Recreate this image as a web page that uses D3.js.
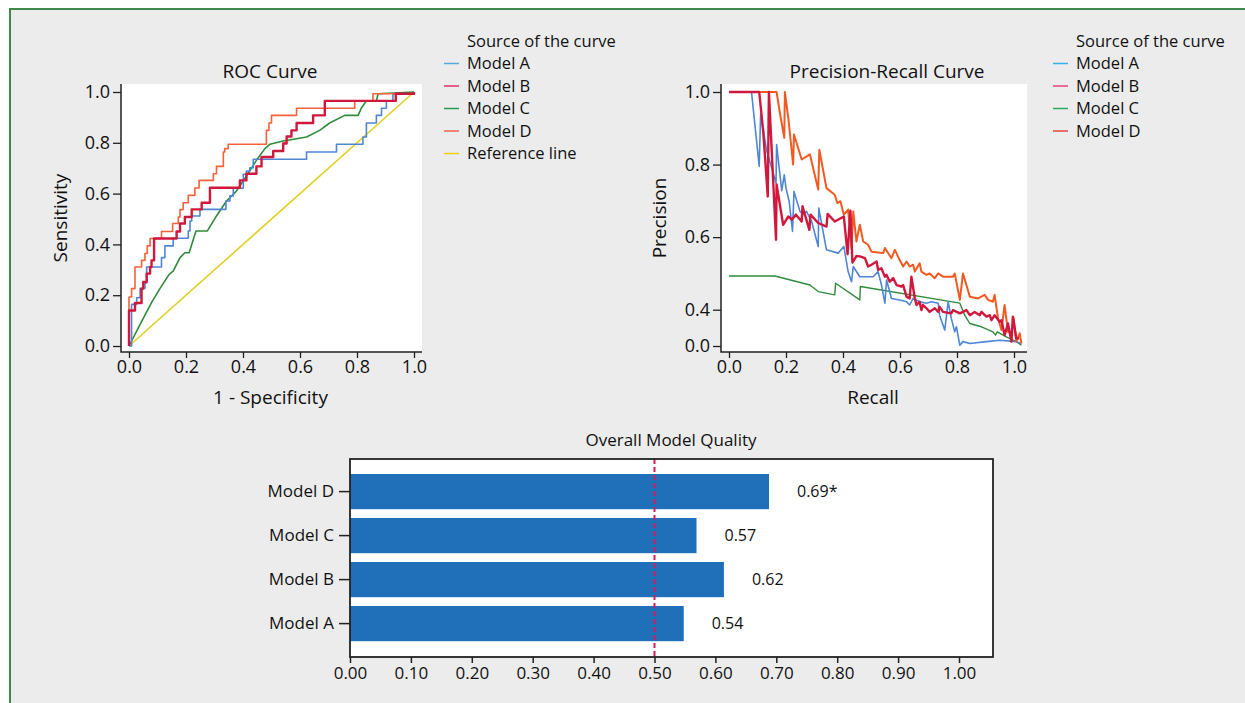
<!DOCTYPE html>
<html>
<head>
<meta charset="utf-8">
<script src="https://cdn.jsdelivr.net/npm/d3@7"></script>
<style>
body { margin: 0; background: #fff; font-family: "Open Sans", sans-serif; }
</style>
</head>
<body>
<script>
// ROC points [1 - specificity, sensitivity]
var rocA = [[0,0],[0.009,0.112],[0.009,0.164],[0.027,0.190],[0.039,0.227],[0.056,0.249],[0.062,0.311],[0.114,0.348],[0.126,0.394],[0.155,0.424],[0.208,0.453],[0.214,0.492],[0.220,0.512],[0.249,0.538],[0.340,0.571],[0.354,0.591],[0.366,0.621],[0.401,0.676],[0.412,0.689],[0.424,0.702],[0.436,0.735],[0.623,0.764],[0.728,0.794],[0.821,0.823],[0.833,0.878],[0.868,0.908],[0.886,0.936],[0.903,0.965],[0.926,0.991],[1,1]];
var rocB = [[0,0],[0,0.140],[0.021,0.169],[0.044,0.226],[0.050,0.252],[0.062,0.285],[0.074,0.311],[0.079,0.337],[0.088,0.423],[0.167,0.451],[0.179,0.482],[0.196,0.508],[0.220,0.538],[0.255,0.564],[0.284,0.623],[0.389,0.652],[0.412,0.678],[0.447,0.707],[0.465,0.744],[0.506,0.768],[0.541,0.797],[0.553,0.825],[0.570,0.849],[0.588,0.878],[0.646,0.908],[0.687,0.965],[0.936,0.993],[1,1]];
var rocC = [[0,0],[0.039,0.085],[0.079,0.171],[0.109,0.227],[0.141,0.282],[0.155,0.295],[0.179,0.348],[0.196,0.367],[0.211,0.367],[0.235,0.453],[0.275,0.453],[0.307,0.512],[0.342,0.571],[0.377,0.610],[0.412,0.669],[0.447,0.731],[0.477,0.777],[0.494,0.794],[0.541,0.807],[0.623,0.823],[0.669,0.849],[0.704,0.878],[0.757,0.908],[0.804,0.908],[0.815,0.936],[0.833,0.965],[0.868,0.965],[0.874,0.993],[1,1]];
var rocD = [[0,0],[0,0.193],[0.009,0.226],[0.021,0.311],[0.044,0.337],[0.056,0.364],[0.064,0.394],[0.074,0.423],[0.114,0.451],[0.153,0.482],[0.173,0.508],[0.179,0.537],[0.190,0.564],[0.208,0.593],[0.231,0.622],[0.246,0.652],[0.296,0.678],[0.307,0.707],[0.331,0.764],[0.336,0.777],[0.348,0.794],[0.482,0.849],[0.491,0.878],[0.500,0.908],[0.588,0.936],[0.792,0.965],[0.856,0.993],[1,1]];
var rocRef = [[0,0],[1,1]];

// Precision-recall points [recall, precision]
var prA = [[0,1],[0.079,1],[0.106,0.795],[0.111,0.938],[0.132,0.839],[0.165,0.749],[0.167,0.855],[0.185,0.728],[0.194,0.772],[0.200,0.735],[0.211,0.699],[0.223,0.616],[0.228,0.726],[0.249,0.671],[0.261,0.662],[0.272,0.671],[0.290,0.643],[0.313,0.574],[0.315,0.680],[0.342,0.565],[0.383,0.556],[0.403,0.574],[0.418,0.505],[0.430,0.477],[0.436,0.519],[0.459,0.491],[0.482,0.491],[0.506,0.491],[0.523,0.505],[0.535,0.468],[0.547,0.418],[0.553,0.482],[0.570,0.431],[0.599,0.427],[0.623,0.422],[0.634,0.413],[0.646,0.431],[0.669,0.422],[0.693,0.418],[0.710,0.422],[0.734,0.418],[0.739,0.385],[0.757,0.344],[0.769,0.422],[0.780,0.376],[0.792,0.339],[0.798,0.353],[0.810,0.302],[0.821,0.312],[0.845,0.307],[0.903,0.312],[0.950,0.316],[1.008,0.312],[1.026,0.307]];
var prB = [[0,1],[0.106,1],[0.120,0.892],[0.136,0.712],[0.140,1],[0.150,0.837],[0.165,0.593],[0.167,0.745],[0.190,0.634],[0.208,0.657],[0.220,0.648],[0.235,0.662],[0.255,0.643],[0.258,0.685],[0.282,0.620],[0.286,0.662],[0.313,0.639],[0.342,0.629],[0.346,0.664],[0.371,0.643],[0.403,0.657],[0.416,0.553],[0.426,0.673],[0.433,0.530],[0.447,0.548],[0.459,0.547],[0.477,0.542],[0.488,0.519],[0.500,0.524],[0.518,0.533],[0.523,0.510],[0.535,0.514],[0.547,0.491],[0.553,0.496],[0.564,0.477],[0.576,0.487],[0.588,0.468],[0.605,0.464],[0.611,0.468],[0.623,0.436],[0.634,0.431],[0.640,0.491],[0.652,0.431],[0.658,0.413],[0.669,0.422],[0.675,0.399],[0.681,0.413],[0.693,0.404],[0.704,0.394],[0.722,0.404],[0.734,0.394],[0.739,0.408],[0.751,0.394],[0.780,0.390],[0.786,0.399],[0.810,0.390],[0.833,0.399],[0.845,0.385],[0.862,0.394],[0.880,0.385],[0.886,0.394],[0.903,0.381],[0.915,0.385],[0.921,0.371],[0.932,0.385],[0.950,0.367],[0.956,0.371],[0.967,0.330],[0.979,0.362],[0.991,0.312],[0.996,0.381],[1.008,0.321],[1.018,0.321]];
var prC = [[0,0.493],[0.161,0.493],[0.284,0.468],[0.313,0.450],[0.371,0.441],[0.374,0.473],[0.459,0.427],[0.461,0.464],[0.810,0.418],[0.827,0.385],[0.845,0.362],[0.886,0.353],[0.926,0.339],[0.935,0.330],[0.941,0.339],[0.973,0.325],[1.008,0.312],[1.026,0.302]];
var prD = [[0,1],[0.167,1],[0.179,0.940],[0.194,0.874],[0.196,1],[0.208,0.929],[0.225,0.800],[0.228,0.883],[0.255,0.814],[0.284,0.828],[0.313,0.731],[0.317,0.841],[0.342,0.735],[0.371,0.717],[0.380,0.694],[0.391,0.699],[0.403,0.662],[0.418,0.676],[0.430,0.570],[0.436,0.671],[0.447,0.588],[0.459,0.634],[0.471,0.588],[0.488,0.579],[0.500,0.560],[0.541,0.556],[0.547,0.570],[0.570,0.542],[0.582,0.565],[0.599,0.537],[0.611,0.519],[0.623,0.533],[0.634,0.519],[0.646,0.524],[0.652,0.505],[0.669,0.528],[0.675,0.505],[0.693,0.496],[0.704,0.500],[0.722,0.487],[0.734,0.500],[0.751,0.491],[0.786,0.491],[0.792,0.500],[0.810,0.427],[0.821,0.500],[0.845,0.436],[0.874,0.431],[0.897,0.441],[0.909,0.427],[0.926,0.422],[0.932,0.441],[0.944,0.376],[0.956,0.344],[0.967,0.413],[0.979,0.339],[0.991,0.335],[0.999,0.376],[1.008,0.312],[1.020,0.335],[1.026,0.307]];

var rocLegend = ["Model A", "Model B", "Model C", "Model D", "Reference line"];
var prLegend = ["Model A", "Model B", "Model C", "Model D"];
var axisTicks = [0, 0.2, 0.4, 0.6, 0.8, 1.0];
var prYTicks = [0.3, 0.4, 0.6, 0.8, 1.0];
var prYLabels = ["0.0", "0.4", "0.6", "0.8", "1.0"];

var barModels = ["Model D", "Model C", "Model B", "Model A"];
var barValues = [0.688, 0.569, 0.614, 0.548];
var barLabels = ["0.69*", "0.57", "0.62", "0.54"];
var barTicks = [0, 0.1, 0.2, 0.3, 0.4, 0.5, 0.6, 0.7, 0.8, 0.9, 1.0];
var chanceLevel = 0.5;

var W = 1245, H = 703;
var svg = d3.select("body").append("svg").attr("width", W).attr("height", H);

// panel background with green frame on left and top
svg.append("rect").attr("x", 9).attr("y", 8).attr("width", W - 9).attr("height", H - 8).attr("fill", "#ececec");
svg.append("path").attr("d", "M10," + H + "V9H" + W).attr("fill", "none").attr("stroke", "#3f8a4a").attr("stroke-width", 2);

var txt = "#111";

function linePlot(opt) {
  var g = svg.append("g");
  g.append("rect").attr("x", opt.left).attr("y", opt.top).attr("width", opt.right - opt.left).attr("height", opt.bottom - opt.top).attr("fill", "#fff");

  opt.series.forEach(function (s) {
    g.append("path").datum(s.data)
      .attr("fill", "none").attr("stroke", s.color).attr("stroke-width", s.width)
      .attr("stroke-linejoin", "round")
      .attr("d", d3.line().x(function (d) { return opt.x(d[0]); }).y(function (d) { return opt.y(d[1]); }).curve(s.curve || d3.curveLinear));
  });

  var ax = g.append("g").attr("transform", "translate(0," + opt.bottom + ")")
    .call(d3.axisBottom(opt.x).tickValues(axisTicks).tickFormat(d3.format(".1f")).tickSize(6).tickPadding(2));
  var ay = g.append("g").attr("transform", "translate(" + opt.left + ",0)")
    .call(d3.axisLeft(opt.y).tickValues(opt.yTicks).tickFormat(opt.yFormat).tickSize(8).tickPadding(3));
  [ax, ay].forEach(function (a) {
    a.select(".domain").remove();
    a.selectAll("line").attr("stroke", "#222").attr("stroke-width", 1.3);
    a.selectAll("text").attr("font-size", 18).attr("fill", txt).attr("font-family", "Open Sans");
  });
  g.append("path").attr("d", "M" + opt.left + "," + opt.top + "V" + opt.bottom + "H" + opt.right)
    .attr("fill", "none").attr("stroke", "#222").attr("stroke-width", 1.5);

  g.append("text").attr("x", opt.titleX).attr("y", 78).attr("text-anchor", "middle").attr("font-size", 19).attr("fill", txt).text(opt.title);
  g.append("text").attr("x", (opt.left + opt.right) / 2 - 1).attr("y", 404).attr("text-anchor", "middle").attr("font-size", 19).attr("fill", txt).text(opt.xLabel);
  g.append("text").attr("transform", "translate(" + opt.yLabelX + ",218) rotate(-90)").attr("text-anchor", "middle").attr("font-size", 19).attr("fill", txt).text(opt.yLabel);

  // legend
  var lg = g.append("g").attr("transform", "translate(" + opt.legendX + ",41)");
  lg.append("text").attr("x", 23).attr("dy", "0.35em").attr("font-size", 16.5).attr("fill", txt).text("Source of the curve");
  opt.legend.forEach(function (name, i) {
    var yy = 22.5 * (i + 1);
    lg.append("line").attr("x1", 0).attr("x2", 15).attr("y1", yy).attr("y2", yy).attr("stroke", opt.legendColors[i]).attr("stroke-width", 1.5);
    lg.append("text").attr("x", 23).attr("y", yy).attr("dy", "0.35em").attr("font-size", 16.5).attr("fill", txt).text(name);
  });
}

var rocX = d3.scaleLinear().domain([0, 1]).range([129, 414]);
var rocY = d3.scaleLinear().domain([0, 1]).range([346, 92]);
linePlot({
  left: 121, right: 422, top: 84, bottom: 352,
  x: rocX, y: rocY, yTicks: axisTicks, yFormat: d3.format(".1f"),
  title: "ROC Curve", titleX: 270, xLabel: "1 - Specificity", yLabel: "Sensitivity", yLabelX: 67,
  legendX: 444, legend: rocLegend,
  legendColors: ["#5aa6d6", "#e0306a", "#2a9a50", "#ee6452", "#f2d000"],
  series: [
    { data: rocRef, color: "#e3cf22", width: 1.6 },
    { data: rocC, color: "#2f8a3a", width: 1.6 },
    { data: rocA, color: "#4f86d4", width: 1.6, curve: d3.curveStepAfter },
    { data: rocD, color: "#f4623a", width: 1.6, curve: d3.curveStepAfter },
    { data: rocB, color: "#d0183c", width: 2.4, curve: d3.curveStepAfter }
  ]
});

var prX = d3.scaleLinear().domain([0, 1]).range([729, 1014]);
var prY = d3.scaleLinear().domain([0.3, 1]).range([346, 92]);
linePlot({
  left: 721, right: 1027, top: 84, bottom: 352,
  x: prX, y: prY, yTicks: prYTicks, yFormat: function (d, i) { return prYLabels[i]; },
  title: "Precision-Recall Curve", titleX: 887, xLabel: "Recall", yLabel: "Precision", yLabelX: 666,
  legendX: 1053, legend: prLegend,
  legendColors: ["#3aaee8", "#e8407e", "#2ea860", "#e04848"],
  series: [
    { data: prC, color: "#2f8a3a", width: 1.4 },
    { data: prA, color: "#4f86d4", width: 1.6 },
    { data: prD, color: "#f25a22", width: 2 },
    { data: prB, color: "#d0183c", width: 2.4 }
  ]
});

// Overall model quality bars
var bx = d3.scaleLinear().domain([0, 1]).range([350, 959]);
var by = d3.scaleBand().domain(barModels).range([465.2, 650]).paddingInner(0.2).paddingOuter(0.2);
var bg = svg.append("g");
bg.append("rect").attr("x", 350).attr("y", 459).attr("width", 643).attr("height", 198).attr("fill", "#fff");
bg.selectAll("rect.bar").data(barModels).enter().append("rect").attr("class", "bar")
  .attr("x", bx(0)).attr("y", function (d) { return by(d); })
  .attr("width", function (d, i) { return bx(barValues[i]) - bx(0); })
  .attr("height", by.bandwidth()).attr("fill", "#1f70b8");
bg.selectAll("text.val").data(barModels).enter().append("text").attr("class", "val")
  .attr("x", function (d, i) { return bx(barValues[i]) + 28; })
  .attr("y", function (d) { return by(d) + by.bandwidth() / 2; })
  .attr("dy", "0.35em").attr("font-size", 16).attr("fill", txt)
  .text(function (d, i) { return barLabels[i]; });
bg.append("line").attr("x1", bx(chanceLevel)).attr("x2", bx(chanceLevel)).attr("y1", 459).attr("y2", 657)
  .attr("stroke", "#d81b5e").attr("stroke-width", 2).attr("stroke-dasharray", "5,3");
bg.append("rect").attr("x", 350).attr("y", 459).attr("width", 643).attr("height", 198)
  .attr("fill", "none").attr("stroke", "#222").attr("stroke-width", 1.8);

var bax = bg.append("g").attr("transform", "translate(0,657)")
  .call(d3.axisBottom(bx).tickValues(barTicks).tickFormat(d3.format(".2f")).tickSize(6).tickPadding(4));
var bay = bg.append("g").attr("transform", "translate(350,0)")
  .call(d3.axisLeft(by).tickSize(11).tickPadding(5));
[bax, bay].forEach(function (a) {
  a.select(".domain").remove();
  a.selectAll("line").attr("stroke", "#222").attr("stroke-width", 1.5);
  a.selectAll("text").attr("font-size", 17).attr("fill", txt).attr("font-family", "Open Sans");
});
bg.append("text").attr("x", 671).attr("y", 446).attr("text-anchor", "middle").attr("font-size", 17).attr("fill", txt).text("Overall Model Quality");
</script>
</body>
</html>
